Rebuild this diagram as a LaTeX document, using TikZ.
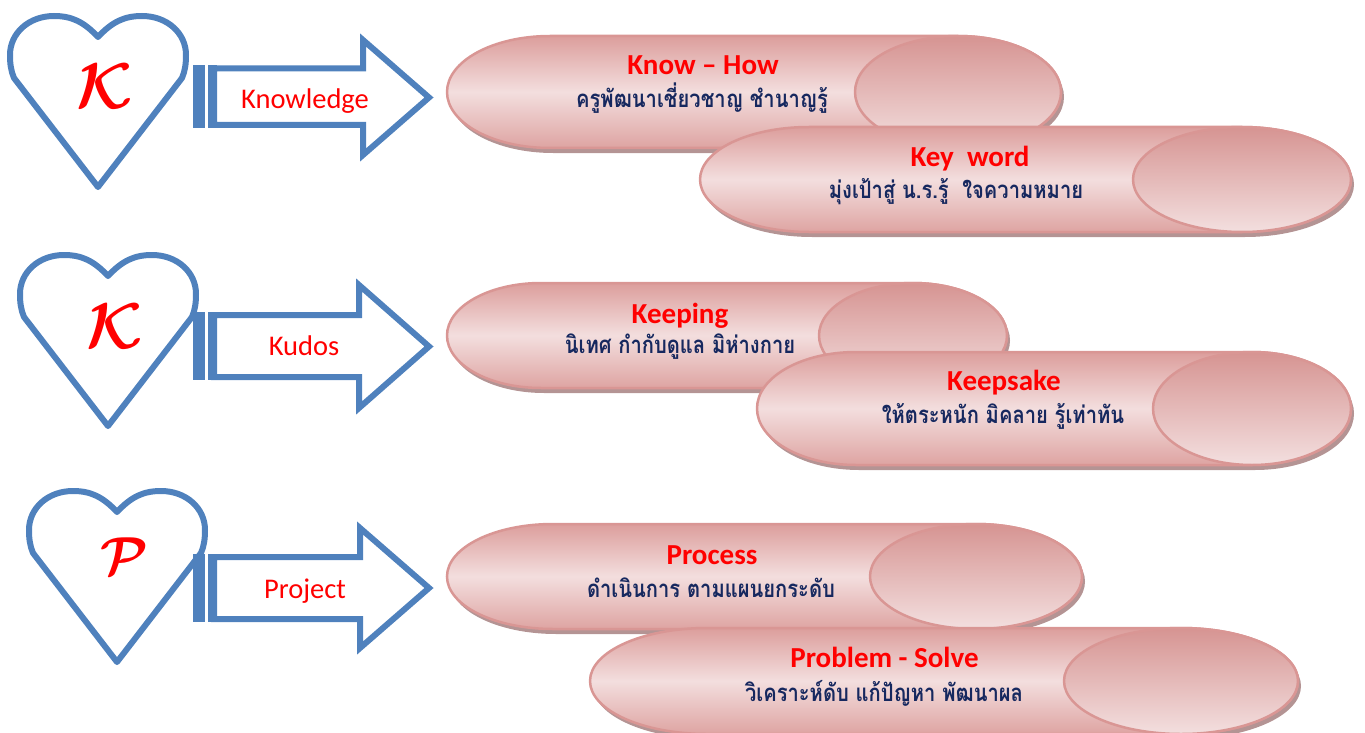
\documentclass[tikz,border=0pt]{standalone}
\usepackage{fontspec}
\usepackage{bm}
\setmainfont{Carlito}
\newfontfamily\thaifont[Script=Thai, FakeStretch=0.84]{Loma}
\definecolor{arrowblue}{RGB}{79,129,189}
\definecolor{canline}{RGB}{217,150,148}
\definecolor{candark}{RGB}{220,158,156}
\definecolor{canlight}{RGB}{243,222,222}
\definecolor{canbot}{RGB}{222,164,162}
\definecolor{endtop}{RGB}{214,148,146}
\definecolor{endbot}{RGB}{243,223,223}
\definecolor{canshadow}{RGB}{180,148,148}
\definecolor{thainavy}{RGB}{22,40,95}
\definecolor{titlered}{RGB}{255,0,0}

\newcommand\pinkcan[5]{%
  \pgfmathsetmacro\canL{#1+#5}%
  \pgfmathsetmacro\canR{#2-#5}%
  \pgfmathsetmacro\canY{(#3+#4)/2}%
  \pgfmathsetmacro\canRy{(#4-#3)/2}%
  \fill[canshadow, xshift=3pt, yshift=-5pt] (\canL,#3) -- (\canR,#3)
     arc[start angle=-90,end angle=90,x radius=#5,y radius=\canRy] -- (\canL,#4)
     arc[start angle=90,end angle=270,x radius=#5,y radius=\canRy] -- cycle;
  \draw[canbody] (\canL,#3) -- (\canR,#3)
     arc[start angle=-90,end angle=90,x radius=#5,y radius=\canRy] -- (\canL,#4)
     arc[start angle=90,end angle=270,x radius=#5,y radius=\canRy] -- cycle;
  \draw[canend] (\canR,\canY) ellipse[x radius=#5, y radius=\canRy];
}

\newcommand\stripearrow[6]{%
  \fill[arrowblue] (193,#1-3) rectangle (205,#2+3);
  \fill[arrowblue] (208,#1-3) rectangle (217,#2+3);
  \draw[arrowline] (214,#1) -- (#3,#1) -- (#3,#4) -- (#6,{(#4+#5)/2}) -- (#3,#5) -- (#3,#2) -- (214,#2) -- cycle;
}

\newcommand\heartshape{%
  \draw[heartline] (98,37) .. controls (84,22) and (72,16) .. (54,16)
     .. controls (29,16) and (10,33) .. (10,55)
     .. controls (10,64) and (11,71) .. (14,78) -- (98,187) -- (182,78)
     .. controls (185,71) and (186,64) .. (186,55)
     .. controls (186,33) and (167,16) .. (142,16)
     .. controls (124,16) and (112,22) .. (98,37) -- cycle;
}

\begin{document}
\begin{tikzpicture}[x=1pt,y=-1pt,
  canbody/.style={draw=canline, line width=2.5pt, top color=candark, bottom color=canbot, middle color=canlight},
  canend/.style={draw=canline, line width=2.5pt, top color=endtop, bottom color=endbot},
  arrowline/.style={draw=arrowblue, line width=6pt, line join=miter},
  heartline/.style={draw=arrowblue, line width=6pt, line join=round},
  title/.style={anchor=base, inner sep=0pt, text=titlered, font=\bfseries\fontsize{29}{29}\selectfont},
  thaisub/.style={anchor=base, inner sep=0pt, text=thainavy, font=\thaifont\bfseries\fontsize{24}{24}\selectfont},
  arrowlabel/.style={anchor=base, inner sep=0pt, text=titlered, font=\fontsize{28.5}{28.5}\selectfont},
  letter/.style={inner sep=0pt, text=titlered, font=\Huge}
]
\useasboundingbox (0,0) rectangle (1365,733);

% hearts
\heartshape
\begin{scope}[shift={(10,239)}]\heartshape\end{scope}
\begin{scope}[shift={(19,475)}]\heartshape\end{scope}
\node[letter, scale=2.6] (h1) at (105,86) {$\bm{\mathcal{K}}$};
\node[letter, scale=2.6] (h2) at (115,326) {$\bm{\mathcal{K}}$};
\node[letter, scale=2.15] (h3) at (124,556) {$\bm{\mathcal{P}}$};

% arrows
\stripearrow{68.5}{125}{363}{40}{155}{429}
\stripearrow{315}{377}{359}{285}{408}{429}
\stripearrow{557}{619}{360}{528}{648}{429}
\node[arrowlabel] (a1) at (305,109) {Knowledge};
\node[arrowlabel] (a2) at (304,355) {Kudos};
\node[arrowlabel] (a3) at (305,598) {Project};

% cans
\pinkcan{447}{1061}{36}{148}{103}
\pinkcan{700}{1351}{127}{232}{109}
\pinkcan{447}{1007}{283}{388}{94}
\pinkcan{757}{1351}{352}{465}{99}
\pinkcan{447}{1082}{524}{629}{106}
\pinkcan{590}{1298}{628}{734}{117}

\node[title] (t1) at (703,75) {Know – How};
\node[thaisub] (s1) at (702,108) {ครูพัฒนาเชี่ยวชาญ ชำนาญรู้};
\node[title] (t2) at (970,166) {Key\ \ word};
\node[thaisub] (s2) at (956,198) {มุ่งเป้าสู่ น.ร.รู้\ \ ใจความหมาย};
\node[title] (t3) at (680,323) {Keeping};
\node[thaisub] (s3) at (680,353) {นิเทศ กำกับดูแล มิห่างกาย};
\node[title] (t4) at (1004,390) {Keepsake};
\node[thaisub] (s4) at (1003,423) {ให้ตระหนัก มิคลาย รู้เท่าทัน};
\node[title] (t5) at (712,564) {Process};
\node[thaisub] (s5) at (711,597) {ดำเนินการ ตามแผนยกระดับ};
\node[title] (t6) at (884.5,667) {Problem - Solve};
\node[thaisub] (s6) at (884,701) {วิเคราะห์ดับ แก้ปัญหา พัฒนาผล};
\end{tikzpicture}
\end{document}
